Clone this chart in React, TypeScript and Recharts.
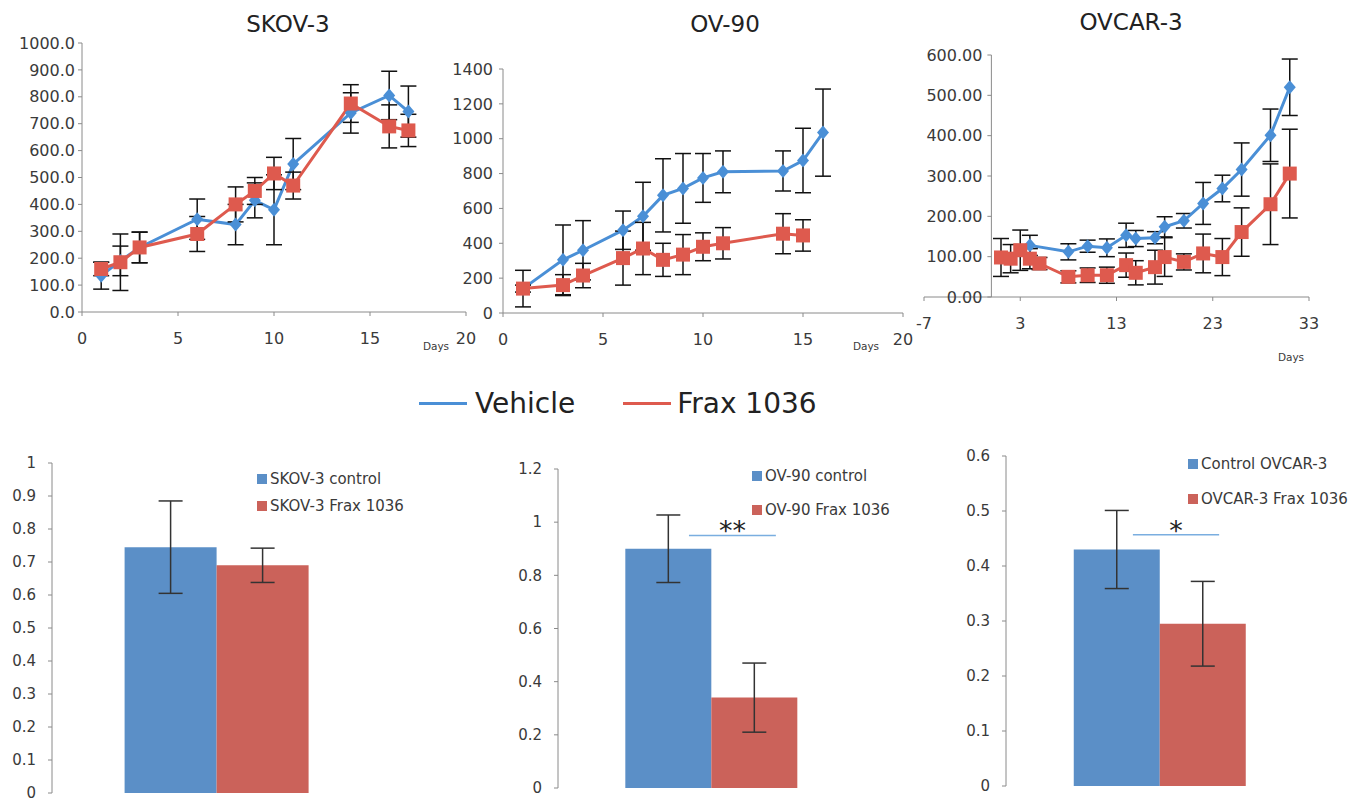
import React from 'react';
import {
  LineChart,
  Line,
  BarChart,
  Bar,
  XAxis,
  YAxis,
  ErrorBar,
  ReferenceLine,
  Legend,
} from 'recharts';

const FONT = '"DejaVu Sans", sans-serif';
const BLUE = '#4a8fd6';
const RED = '#de5a4e';
const BAR_BLUE = '#5b8fc7';
const BAR_RED = '#cb625a';
const AXIS = '#8a8a8a';
const TEXT = '#3a3a3a';

// tumour growth, SKOV-3
const skovDays = [1, 2, 3, 6, 8, 9, 10, 11, 14, 16, 17];
const skovVehicle = [135, 190, 240, 345, 325, 415, 380, 550, 740, 805, 745];
const skovVehicleErr = [50, 55, 57, 75, 75, 65, 130, 95, 75, 90, 95];
const skovFrax = [160, 185, 240, 290, 400, 450, 515, 470, 775, 690, 675];
const skovFraxErr = [25, 105, 57, 65, 65, 50, 60, 50, 70, 80, 60];

// tumour growth, OV-90
const ov90VehicleDays = [1, 3, 4, 6, 7, 8, 9, 10, 11, 14, 15, 16];
const ov90Vehicle = [140, 305, 360, 475, 555, 675, 715, 775, 810, 815, 875, 1035];
const ov90VehicleErr = [105, 200, 170, 110, 195, 210, 200, 140, 120, 115, 185, 250];
const ov90FraxDays = [1, 3, 4, 6, 7, 8, 9, 10, 11, 14, 15];
const ov90Frax = [140, 160, 215, 315, 370, 305, 335, 380, 400, 455, 445];
const ov90FraxErr = [20, 60, 70, 155, 150, 95, 115, 80, 90, 115, 90];

// tumour growth, OVCAR-3
const ovcarVehicleDays = [4, 8, 10, 12, 14, 15, 17, 18, 20, 22, 24, 26, 29, 31];
const ovcarVehicle = [128, 112, 126, 122, 153, 145, 147, 174, 189, 232, 269, 316, 401, 520];
const ovcarVehicleErr = [25, 20, 15, 22, 30, 20, 15, 25, 18, 52, 33, 66, 65, 70];
const ovcarFraxDays = [1, 2, 3, 4, 5, 8, 10, 12, 14, 15, 17, 18, 20, 22, 24, 26, 29, 31];
const ovcarFrax = [98, 95, 116, 95, 83, 50, 54, 54, 79, 60, 74, 99, 87, 108, 99, 161, 230, 306];
const ovcarFraxErr = [47, 35, 50, 25, 15, 15, 18, 20, 30, 30, 42, 48, 20, 48, 46, 60, 100, 110];

// bar panels
const controlNames = ['SKOV-3 control', 'OV-90 control', 'Control OVCAR-3'];
const fraxNames = ['SKOV-3 Frax 1036', 'OV-90 Frax 1036', 'OVCAR-3 Frax 1036'];
const controlMeans = [0.745, 0.9, 0.43];
const controlErrs = [0.14, 0.127, 0.071];
const fraxMeans = [0.69, 0.34, 0.295];
const fraxErrs = [0.052, 0.13, 0.077];

const skovYTicks = [0, 100, 200, 300, 400, 500, 600, 700, 800, 900, 1000];
const ov90YTicks = [0, 200, 400, 600, 800, 1000, 1200, 1400];
const ovcarYTicks = [0, 100, 200, 300, 400, 500, 600];
const dayTicks = [0, 5, 10, 15, 20];
const ovcarDayTicks = [-7, 3, 13, 23, 33];
const barTicks = [
  [0, 0.1, 0.2, 0.3, 0.4, 0.5, 0.6, 0.7, 0.8, 0.9, 1],
  [0, 0.2, 0.4, 0.6, 0.8, 1, 1.2],
  [0, 0.1, 0.2, 0.3, 0.4, 0.5, 0.6],
];

const toRows = (days: number[], vals: number[], errs: number[]) =>
  days.map((d, i) => ({ day: d, value: vals[i], err: errs[i] }));

const Diamond = (props: any) => {
  const { cx, cy } = props;
  if (cx == null || cy == null) return null;
  return (
    <path
      d={`M${cx},${cy - 7}L${cx + 6},${cy}L${cx},${cy + 7}L${cx - 6},${cy}Z`}
      fill={BLUE}
    />
  );
};

const Square = (props: any) => {
  const { cx, cy } = props;
  if (cx == null || cy == null) return null;
  return <rect x={cx - 7} y={cy - 7} width={14} height={14} fill={RED} />;
};

const tickStyle = { fill: TEXT, fontSize: 16, fontFamily: FONT };

const abs = (left: number, top: number): React.CSSProperties => ({
  position: 'absolute',
  left,
  top,
});

const Title = ({ text, x, y }: { text: string; x: number; y: number }) => (
  <div
    style={{
      ...abs(x - 100, y - 14),
      width: 200,
      textAlign: 'center',
      fontFamily: FONT,
      fontSize: 23,
      lineHeight: '28px',
      color: '#222',
    }}
  >
    {text}
  </div>
);

const DaysLabel = ({ x, y }: { x: number; y: number }) => (
  <div style={{ ...abs(x - 20, y - 7), width: 40, textAlign: 'center', fontFamily: FONT, fontSize: 10.5, color: TEXT }}>
    Days
  </div>
);

const seriesLines = (vehicle: any[], frax: any[]) => [
  <Line
    key="vehicle"
    data={vehicle}
    dataKey="value"
    name="Vehicle"
    type="linear"
    stroke={BLUE}
    strokeWidth={3}
    dot={<Diamond />}
    isAnimationActive={false}
  >
    <ErrorBar dataKey="err" direction="y" width={8} stroke="#111" strokeWidth={1.5} />
  </Line>,
  <Line
    key="frax"
    data={frax}
    dataKey="value"
    name="Frax 1036"
    type="linear"
    stroke={RED}
    strokeWidth={3}
    dot={<Square />}
    isAnimationActive={false}
  >
    <ErrorBar dataKey="err" direction="y" width={8} stroke="#111" strokeWidth={1.5} />
  </Line>,
];

// OVCAR-3 panel: y axis crosses the x axis at day 0
const OV3_W = 440;
const OV3_YW = 24;
const OV3_RIGHT = 31;
const OV3_XMIN = -7;
const OV3_XMAX = 33;
const ov3ZeroX = OV3_YW + ((0 - OV3_XMIN) / (OV3_XMAX - OV3_XMIN)) * (OV3_W - OV3_YW - OV3_RIGHT);

const CrossTick = (props: any) => {
  const { y, payload } = props;
  return (
    <g>
      <line x1={ov3ZeroX - 4} x2={ov3ZeroX} y1={y} y2={y} stroke={AXIS} />
      <text x={ov3ZeroX - 9} y={y} dy="0.35em" textAnchor="end" {...tickStyle}>
        {Number(payload.value).toFixed(2)}
      </text>
    </g>
  );
};

const BarLegend = ({ idx, gap }: { idx: number; gap: number }) => {
  const items = [
    { name: controlNames[idx], color: BAR_BLUE },
    { name: fraxNames[idx], color: BAR_RED },
  ];
  return (
    <div style={{ fontFamily: FONT, fontSize: 15, color: TEXT }}>
      {items.map((p) => (
        <div key={p.name} style={{ display: 'flex', alignItems: 'center', height: gap, whiteSpace: 'nowrap' }}>
          <span style={{ width: 10, height: 10, background: p.color, marginRight: 3, display: 'inline-block' }} />
          <span>{p.name}</span>
        </div>
      ))}
    </div>
  );
};

// short significance bar drawn over part of a y reference line
const sigShape = (from: number, to: number, text: string) => (props: any) => {
  const { x1, x2, y1 } = props;
  if (x1 == null || x2 == null || y1 == null) return <g />;
  const a = x1 + (x2 - x1) * from;
  const b = x1 + (x2 - x1) * to;
  return (
    <g>
      <line x1={a} x2={b} y1={y1} y2={y1} stroke="#7aaee0" strokeWidth={1.5} />
      <text x={(a + b) / 2} y={y1 + 5} textAnchor="middle" fill="#222" fontSize={27} fontFamily={FONT}>
        {text}
      </text>
    </g>
  );
};

interface BarPanelProps {
  idx: number;
  left: number;
  top: number;
  width: number;
  yWidth: number;
  margin: { top: number; right: number; left: number; bottom: number };
  legendPos: { left: number; top: number; gap: number };
  sig?: { from: number; to: number; y: number; text: string };
}

const BarPanel = ({ idx, left, top, width, yWidth, margin, legendPos, sig }: BarPanelProps) => {
  const ticks = barTicks[idx];
  const row = [
    {
      group: controlNames[idx],
      control: controlMeans[idx],
      controlErr: controlErrs[idx],
      frax: fraxMeans[idx],
      fraxErr: fraxErrs[idx],
    },
  ];
  return (
    <div style={abs(left, top)}>
      <BarChart width={width} height={366} data={row} margin={margin} barCategoryGap="22%" barGap={0}>
        <XAxis dataKey="group" hide />
        <YAxis
          domain={[0, ticks[ticks.length - 1]]}
          ticks={ticks}
          width={yWidth}
          axisLine={{ stroke: AXIS }}
          tickLine={{ stroke: AXIS }}
          tickSize={4}
          tickMargin={12}
          tick={{ ...tickStyle, fontSize: 15 }}
          interval={0}
        />
        <Legend
          layout="horizontal"
          align="center"
          verticalAlign="middle"
          content={() => <BarLegend idx={idx} gap={legendPos.gap} />}
          wrapperStyle={{ left: legendPos.left, top: legendPos.top, right: 'auto', bottom: 'auto', width: 'auto' }}
        />
        <Bar dataKey="control" name={controlNames[idx]} fill={BAR_BLUE} isAnimationActive={false}>
          <ErrorBar dataKey="controlErr" direction="y" width={12} stroke="#333" strokeWidth={1.5} />
        </Bar>
        <Bar dataKey="frax" name={fraxNames[idx]} fill={BAR_RED} isAnimationActive={false}>
          <ErrorBar dataKey="fraxErr" direction="y" width={12} stroke="#333" strokeWidth={1.5} />
        </Bar>
        {sig && <ReferenceLine y={sig.y} shape={sigShape(sig.from, sig.to, sig.text)} />}
      </BarChart>
    </div>
  );
};

const App = () => {
  const skovV = toRows(skovDays, skovVehicle, skovVehicleErr);
  const skovF = toRows(skovDays, skovFrax, skovFraxErr);
  const ov90V = toRows(ov90VehicleDays, ov90Vehicle, ov90VehicleErr);
  const ov90F = toRows(ov90FraxDays, ov90Frax, ov90FraxErr);
  const ovcarV = toRows(ovcarVehicleDays, ovcarVehicle, ovcarVehicleErr);
  const ovcarF = toRows(ovcarFraxDays, ovcarFrax, ovcarFraxErr);

  return (
    <div
      style={{
        position: 'absolute',
        left: 0,
        top: 0,
        width: 1368,
        height: 806,
        background: '#fff',
        overflow: 'hidden',
        fontFamily: FONT,
      }}
    >
      <Title text="SKOV-3" x={288} y={24} />
      <Title text="OV-90" x={725} y={24} />
      <Title text="OVCAR-3" x={1131} y={22} />

      {/* SKOV-3 growth */}
      <div style={abs(0, 0)}>
        <LineChart width={480} height={360} margin={{ top: 43, right: 14, left: 0, bottom: 18 }}>
          <XAxis
            dataKey="day"
            type="number"
            domain={[0, 20]}
            ticks={dayTicks}
            axisLine={{ stroke: AXIS }}
            tickLine={{ stroke: AXIS }}
            tickSize={4}
            tickMargin={17}
            tick={tickStyle}
            interval={0}
          />
          <YAxis
            domain={[0, 1000]}
            ticks={skovYTicks}
            width={82}
            axisLine={{ stroke: AXIS }}
            tickLine={{ stroke: AXIS }}
            tickSize={4}
            tickMargin={3}
            tick={tickStyle}
            tickFormatter={(v: number) => v.toFixed(1)}
            interval={0}
          />
          {seriesLines(skovV, skovF)}
        </LineChart>
      </div>
      <DaysLabel x={436} y={347} />

      {/* OV-90 growth */}
      <div style={abs(420, 0)}>
        <LineChart width={500} height={360} margin={{ top: 69, right: 17, left: 0, bottom: 17 }}>
          <XAxis
            dataKey="day"
            type="number"
            domain={[0, 20]}
            ticks={dayTicks}
            axisLine={{ stroke: AXIS }}
            tickLine={{ stroke: AXIS }}
            tickSize={4}
            tickMargin={17}
            tick={tickStyle}
            interval={0}
          />
          <YAxis
            domain={[0, 1400]}
            ticks={ov90YTicks}
            width={83}
            axisLine={{ stroke: AXIS }}
            tickLine={{ stroke: AXIS }}
            tickSize={4}
            tickMargin={6}
            tick={tickStyle}
            interval={0}
          />
          {seriesLines(ov90V, ov90F)}
        </LineChart>
      </div>
      <DaysLabel x={866} y={347} />

      {/* OVCAR-3 growth */}
      <div style={abs(900, 0)}>
        <LineChart width={OV3_W} height={380} margin={{ top: 55, right: OV3_RIGHT, left: 0, bottom: 53 }}>
          <XAxis
            dataKey="day"
            type="number"
            domain={[OV3_XMIN, OV3_XMAX]}
            ticks={ovcarDayTicks}
            axisLine={{ stroke: AXIS }}
            tickLine={{ stroke: AXIS }}
            tickSize={4}
            tickMargin={17}
            tick={tickStyle}
            interval={0}
          />
          <YAxis
            domain={[0, 600]}
            ticks={ovcarYTicks}
            width={OV3_YW}
            axisLine={false}
            tickLine={false}
            tick={<CrossTick />}
            interval={0}
          />
          <ReferenceLine x={0} stroke={AXIS} />
          {seriesLines(ovcarV, ovcarF)}
        </LineChart>
      </div>
      <DaysLabel x={1291} y={358} />

      {/* shared legend */}
      <div style={{ ...abs(419, 386), display: 'flex', alignItems: 'center', fontFamily: FONT, fontSize: 28, color: '#222', height: 34 }}>
        <span style={{ width: 48, height: 3, background: BLUE, display: 'inline-block', marginRight: 8 }} />
        <span>Vehicle</span>
        <span style={{ width: 48, height: 3, background: RED, display: 'inline-block', marginLeft: 48, marginRight: 6 }} />
        <span>Frax 1036</span>
      </div>

      <BarPanel
        idx={0}
        left={0}
        top={440}
        width={460}
        yWidth={52}
        margin={{ top: 23, right: 78, left: 0, bottom: 13 }}
        legendPos={{ left: 257, top: 25, gap: 27 }}
      />
      <BarPanel
        idx={1}
        left={480}
        top={440}
        width={460}
        yWidth={78}
        margin={{ top: 29, right: 76, left: 0, bottom: 18 }}
        legendPos={{ left: 272, top: 19, gap: 34 }}
        sig={{ from: 0.428, to: 0.712, y: 0.95, text: '**' }}
      />
      <BarPanel
        idx={2}
        left={930}
        top={440}
        width={438}
        yWidth={76}
        margin={{ top: 16, right: 54, left: 0, bottom: 20 }}
        legendPos={{ left: 258, top: 6, gap: 35 }}
        sig={{ from: 0.412, to: 0.692, y: 0.457, text: '*' }}
      />
    </div>
  );
};

export default App;
